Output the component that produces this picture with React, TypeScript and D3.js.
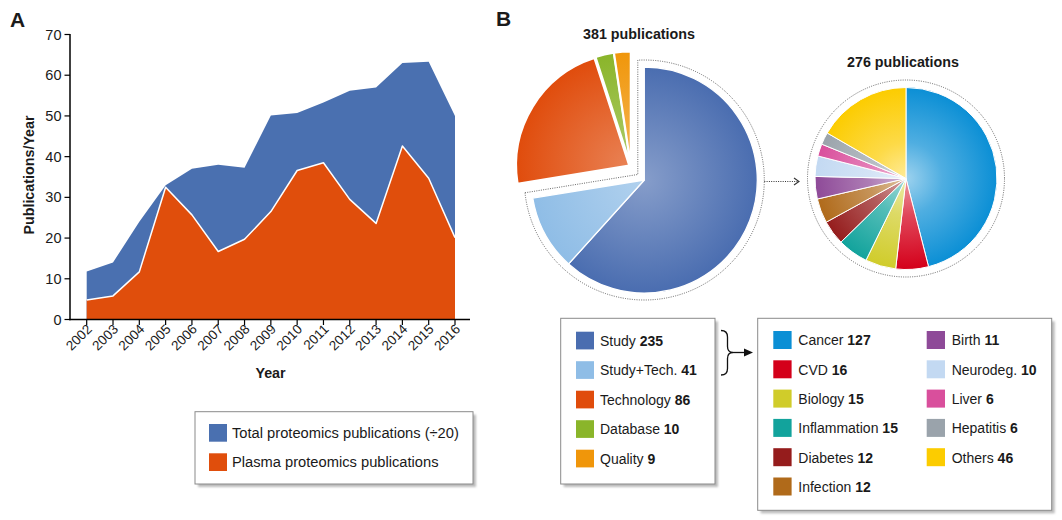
import React from "react";
import * as d3 from "d3";

const years = [2002, 2003, 2004, 2005, 2006, 2007, 2008, 2009, 2010, 2011, 2012, 2013, 2014, 2015, 2016];
const totalPubs = [11.8, 14, 24, 33, 37, 38, 37.3, 50.1, 50.7, 53.3, 56.2, 57, 63, 63.3, 50];
const plasmaPubs = [4.8, 5.8, 11.7, 32.5, 25.7, 16.7, 19.7, 26.5, 36.6, 38.5, 29.5, 23.6, 42.6, 34.7, 20.1];
const yTicks = [0, 10, 20, 30, 40, 50, 60, 70];
const legendALabels = ["Total proteomics publications (\u00f720)", "Plasma proteomics publications"];
const areaColors = ["#4a70b0", "#e04e0c"];

const pie1Labels = ["Study", "Study+Tech.", "Technology", "Database", "Quality"];
const pie1Values = [235, 41, 86, 10, 9];
const pie1Colors = ["#4a6db0", "#8fbde6", "#e04c0c", "#8ab52a", "#f0960a"];
const pie1Exploded = [false, false, true, true, true];
const pie1Total = 381;

const pie2Labels = ["Cancer", "CVD", "Biology", "Inflammation", "Diabetes", "Infection", "Birth", "Neurodeg.", "Liver", "Hepatitis", "Others"];
const pie2Values = [127, 16, 15, 15, 12, 12, 11, 10, 6, 6, 46];
const pie2Colors = ["#0b8fd5", "#d4001a", "#d0cc2a", "#12a39c", "#951c1c", "#b06a1a", "#8e4a98", "#c3d9f2", "#d94f9c", "#9aa3ab", "#fccc00"];
const pie2Total = 276;

const FONT = "'Liberation Sans', Arial, Helvetica, sans-serif";
const TXT = "#1a1a1a";

function u(a: number): [number, number] {
  return [Math.sin(a), -Math.cos(a)];
}

export default function App() {
  const W = 1062, H = 520;
  // ---- Panel A ----
  const x = d3.scaleLinear().domain([2002, 2016]).range([86.7, 455]);
  const y = d3.scaleLinear().domain([0, 70]).range([319.5, 34.5]);
  const totalArea = d3.area<number>().x((_, i) => x(years[i])).y0(y(0)).y1((d) => y(d))(totalPubs) || "";
  const plasmaArea = d3.area<number>().x((_, i) => x(years[i])).y0(y(0)).y1((d) => y(d))(plasmaPubs) || "";
  const plasmaLine = d3.line<number>().x((_, i) => x(years[i])).y((d) => y(d))(plasmaPubs) || "";

  // ---- Pie 1 ----
  const c1: [number, number] = [644.3, 180];
  const r1 = 113;
  const pie = d3.pie<number>().sort(null).value((d) => d);
  const arcs1 = pie(pie1Values);
  const arc1 = d3.arc<d3.PieArcDatum<number>>().innerRadius(0).outerRadius(r1);
  const groupOff = u(-Math.PI / 4).map((v) => v * 19);
  const offsets1 = arcs1.map((a, i) => {
    if (!pie1Exploded[i]) return [0, 0];
    const b = u((a.startAngle + a.endAngle) / 2);
    return [groupOff[0] + b[0] * 2, groupOff[1] + b[1] * 2];
  });
  // dotted outline around the non-exploded group
  const a0 = arcs1[0].startAngle;
  const a1 = arcs1[1].endAngle;
  const R = 120, off = 6.5;
  const gap = 2 * Math.PI - (a1 - a0);
  const bis = u(a1 + gap / 2);
  const dc = off / Math.sin(gap / 2);
  const corner = [c1[0] + bis[0] * dc, c1[1] + bis[1] * dc];
  const n0 = u(a0 - Math.PI / 2);
  const n1 = u(a1 + Math.PI / 2);
  const t = Math.sqrt(R * R - off * off);
  const p0 = [c1[0] + n0[0] * off + u(a0)[0] * t, c1[1] + n0[1] * off + u(a0)[1] * t];
  const p1 = [c1[0] + n1[0] * off + u(a1)[0] * t, c1[1] + n1[1] * off + u(a1)[1] * t];
  const outline1 = `M${p1[0]},${p1[1]} L${corner[0]},${corner[1]} L${p0[0]},${p0[1]} A${R},${R} 0 1 1 ${p1[0]},${p1[1]}`;

  // ---- Pie 2 ----
  const c2: [number, number] = [906, 178.5];
  const r2 = 91;
  const arcs2 = pie(pie2Values);
  const arc2 = d3.arc<d3.PieArcDatum<number>>().innerRadius(0).outerRadius(r2);

  const light = (c: string, k: number) => d3.interpolateRgb(c, "#ffffff")(k);

  const connY = 181.5;

  return (
    <svg width={W} height={H} viewBox={`0 0 ${W} ${H}`} style={{ position: "absolute", left: 0, top: 0, display: "block", background: "#fff" }} fontFamily={FONT}>
      <defs>
        <filter id="shadow" x="-10%" y="-10%" width="130%" height="130%">
          <feGaussianBlur stdDeviation="1.2" />
        </filter>
        {arcs1.map((a, i) => (
          <radialGradient key={"g1" + i} id={"g1_" + i} gradientUnits="userSpaceOnUse" cx={0} cy={0} r={r1}>
            <stop offset="0" stopColor={light(pie1Colors[i], i === 0 ? 0.33 : 0.3)} />
            <stop offset="1" stopColor={pie1Colors[i]} />
          </radialGradient>
        ))}
        {arcs2.map((a, i) => (
          <radialGradient key={"g2" + i} id={"g2_" + i} gradientUnits="userSpaceOnUse" cx={0} cy={0} r={r2}>
            <stop offset="0" stopColor={light(pie2Colors[i], 0.6)} />
            <stop offset="0.4" stopColor={light(pie2Colors[i], 0.28)} />
            <stop offset="1" stopColor={pie2Colors[i]} />
          </radialGradient>
        ))}
      </defs>

      {/* Panel A */}
      <text x={10} y={27} fontSize={21} fontWeight="bold" fill={TXT}>A</text>
      <path d={totalArea} fill={areaColors[0]} />
      <path d={plasmaArea} fill={areaColors[1]} />
      <path d={plasmaLine} fill="none" stroke="#fff" strokeWidth={1.5} strokeLinejoin="round" />
      <line x1={70} x2={70} y1={34} y2={320.3} stroke="#000" strokeWidth={1.5} />
      <line x1={69.3} x2={470} y1={319.5} y2={319.5} stroke="#000" strokeWidth={1.5} />
      {yTicks.map((v) => (
        <g key={"yt" + v}>
          <line x1={64.5} x2={70} y1={y(v)} y2={y(v)} stroke="#000" strokeWidth={1.2} />
          <text x={61.5} y={y(v) + 5} fontSize={14.5} textAnchor="end" fill={TXT}>{v}</text>
        </g>
      ))}
      {years.map((yr) => (
        <g key={"xt" + yr}>
          <line x1={x(yr)} x2={x(yr)} y1={319.5} y2={325} stroke="#000" strokeWidth={1.2} />
          <text transform={`translate(${x(yr) + 6},${330}) rotate(-45)`} fontSize={13.5} textAnchor="end" fill={TXT}>{yr}</text>
        </g>
      ))}
      <text x={270.5} y={378} fontSize={14.3} fontWeight="bold" textAnchor="middle" fill={TXT}>Year</text>
      <text transform={`translate(33.5,175) rotate(-90)`} fontSize={14.3} fontWeight="bold" textAnchor="middle" fill={TXT}>Publications/Year</text>

      {/* Legend A */}
      <rect x={198} y={414.7} width={278} height={72.3} fill="#bbb" filter="url(#shadow)" />
      <rect x={195} y={411.7} width={278} height={72.3} fill="#fff" stroke="#8a8a8a" strokeWidth={1} />
      {legendALabels.map((l, i) => (
        <g key={"la" + i}>
          <rect x={209} y={424 + i * 29.3} width={18} height={17.7} fill={areaColors[i]} />
          <text x={232} y={424 + i * 29.3 + 14} fontSize={14.7} fill={TXT}>{l}</text>
        </g>
      ))}

      {/* Panel B */}
      <text x={496} y={26} fontSize={21} fontWeight="bold" fill={TXT}>B</text>
      <text x={639} y={38.5} fontSize={14.3} fontWeight="bold" textAnchor="middle" fill={TXT}>{pie1Total} publications</text>
      <text x={903} y={67} fontSize={14.3} fontWeight="bold" textAnchor="middle" fill={TXT}>{pie2Total} publications</text>

      <path d={outline1} fill="none" stroke="#555" strokeWidth={0.9} strokeDasharray="1 1.3" />
      {arcs1.map((a, i) => (
        <path key={"p1" + i} d={arc1(a) || ""} transform={`translate(${c1[0] + offsets1[i][0]},${c1[1] + offsets1[i][1]})`} fill={`url(#g1_${i})`} stroke="#fff" strokeWidth={pie1Exploded[i] ? 2 : 1.3} strokeLinejoin="round" />
      ))}

      <line x1={c1[0] + R} x2={798} y1={connY} y2={connY} stroke="#333" strokeWidth={1} strokeDasharray="1 1.3" />
      <path d={`M794,${connY - 3.5} L799,${connY} L794,${connY + 3.5}`} fill="none" stroke="#333" strokeWidth={1.1} />

      <circle cx={c2[0]} cy={c2[1]} r={98.5} fill="none" stroke="#555" strokeWidth={0.9} strokeDasharray="1 1.3" />
      {arcs2.map((a, i) => (
        <path key={"p2" + i} d={arc2(a) || ""} transform={`translate(${c2[0]},${c2[1]})`} fill={`url(#g2_${i})`} stroke="#fff" strokeWidth={1} strokeLinejoin="round" />
      ))}

      {/* Legend B1 */}
      <rect x={563.7} y={321.3} width={154.3} height={165.7} fill="#bbb" filter="url(#shadow)" />
      <rect x={560.7} y={318.3} width={154.3} height={165.7} fill="#fff" stroke="#8a8a8a" strokeWidth={1} />
      {pie1Labels.map((l, i) => (
        <g key={"lb1" + i}>
          <rect x={576} y={331.7 + i * 29.5} width={18} height={17.7} fill={pie1Colors[i]} />
          <text x={600} y={331.7 + i * 29.5 + 14} fontSize={14} fill={TXT}>
            {l} <tspan fontWeight="bold">{pie1Values[i]}</tspan>
          </text>
        </g>
      ))}

      {/* Brace and arrow */}
      <path d="M721,330.5 Q727.5,330.5 727.5,337 L727.5,346.5 Q727.5,352.5 733,352.5 Q727.5,352.5 727.5,358.5 L727.5,368.5 Q727.5,375 721,375" fill="none" stroke="#111" strokeWidth={1.3} />
      <line x1={733} x2={746} y1={352.5} y2={352.5} stroke="#111" strokeWidth={1.3} />
      <path d="M744,348.5 L753,352.5 L744,356.5 Z" fill="#111" />

      {/* Legend B2 */}
      <rect x={760.7} y={321.3} width={294} height={192} fill="#bbb" filter="url(#shadow)" />
      <rect x={757.7} y={318.3} width={294} height={192} fill="#fff" stroke="#8a8a8a" strokeWidth={1} />
      {pie2Labels.map((l, i) => {
        const col = i < 6 ? 0 : 1;
        const row = i < 6 ? i : i - 6;
        const sx = col === 0 ? 773.3 : 926.7;
        const sy = 331 + row * 29.3;
        return (
          <g key={"lb2" + i}>
            <rect x={sx} y={sy} width={18.3} height={18} fill={pie2Colors[i]} />
            <text x={sx + 25} y={sy + 14.3} fontSize={14} fill={TXT}>
              {l} <tspan fontWeight="bold">{pie2Values[i]}</tspan>
            </text>
          </g>
        );
      })}
    </svg>
  );
}
